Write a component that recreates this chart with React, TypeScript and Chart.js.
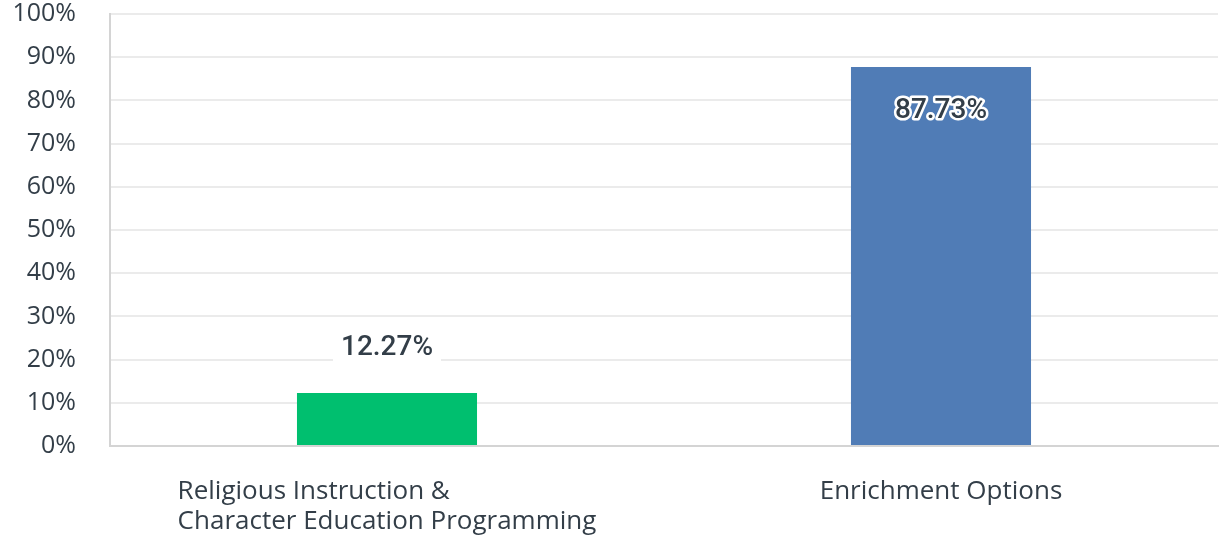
import React, { useEffect, useRef } from "react";
import { Chart, registerables } from "chart.js";

Chart.register(...registerables);

const categories: string[][] = [
  ["Religious Instruction &", "Character Education Programming"],
  ["Enrichment Options"],
];
const values: number[] = [12.27, 87.73];
const barColors: string[] = ["#00bf6f", "#507cb6"];
const yMin = 0;
const yMax = 100;
const yStep = 10;

const TEXT = "#333e48";
const TICK_FONT = "Open Sans";
const LABEL_FONT = "Roboto";

const xLabelPlugin = {
  id: "xLabelPlugin",
  afterDraw(chart: any) {
    const ctx = chart.ctx;
    const xs = chart.scales.x;
    const area = chart.chartArea;
    ctx.save();
    ctx.font = `26px "${TICK_FONT}"`;
    ctx.fillStyle = TEXT;
    ctx.textBaseline = "middle";
    ctx.textAlign = "left";
    categories.forEach((lines, i) => {
      const cx = xs.getPixelForValue(i);
      const w = Math.max(...lines.map((l) => ctx.measureText(l).width));
      const left = cx - w / 2;
      lines.forEach((l, k) => {
        ctx.fillText(l, left, area.bottom + 46 + k * 30);
      });
    });
    ctx.restore();
  },
};

const dataLabelPlugin = {
  id: "dataLabelPlugin",
  afterDatasetsDraw(chart: any) {
    const ctx = chart.ctx;
    const meta = chart.getDatasetMeta(0);
    ctx.save();
    ctx.font = `500 28px "${LABEL_FONT}"`;
    ctx.textAlign = "center";
    ctx.textBaseline = "middle";
    meta.data.forEach((bar: any, i: number) => {
      const v = values[i];
      const txt = v.toFixed(2) + "%";
      const w = ctx.measureText(txt).width;
      if (v < 50) {
        const y = bar.y - 45;
        ctx.fillStyle = "#ffffff";
        ctx.fillRect(bar.x - w / 2 - 8, y - 16, w + 16, 32);
        ctx.fillStyle = TEXT;
        ctx.fillText(txt, bar.x, y);
      } else {
        const y = bar.y + 44;
        ctx.lineWidth = 5;
        ctx.lineJoin = "round";
        ctx.strokeStyle = "#ffffff";
        ctx.strokeText(txt, bar.x, y);
        ctx.fillStyle = TEXT;
        ctx.fillText(txt, bar.x, y);
      }
    });
    ctx.restore();
  },
};

export default function App() {
  const ref = useRef<HTMLCanvasElement | null>(null);

  useEffect(() => {
    document.body.style.margin = "0";
    if (!ref.current) return;
    const chart = new Chart(ref.current, {
      type: "bar",
      data: {
        labels: categories.map((c) => c.join(" ")),
        datasets: [
          {
            data: values,
            backgroundColor: barColors,
            borderWidth: 0,
            barPercentage: 0.325,
            categoryPercentage: 1,
          },
        ],
      },
      options: {
        animation: false,
        responsive: true,
        maintainAspectRatio: false,
        layout: { padding: { top: 14, right: 3, left: 0, bottom: 0 } },
        plugins: {
          legend: { display: false },
          tooltip: { enabled: false },
        },
        scales: {
          x: {
            grid: { display: false, drawTicks: false },
            border: { display: true, color: "#d4d4d4", width: 2 },
            ticks: { display: false },
            afterFit: (s: any) => {
              s.height = 94;
            },
          },
          y: {
            min: yMin,
            max: yMax,
            ticks: {
              stepSize: yStep,
              color: TEXT,
              font: { family: TICK_FONT, size: 25 },
              padding: 34,
              callback: (v: any) => v + "%",
            },
            grid: { color: "#ebebeb", lineWidth: 2, drawTicks: false },
            border: { display: true, color: "#d4d4d4", width: 2 },
            afterFit: (s: any) => {
              s.width = 110;
              s.paddingTop = 14;
              s.paddingBottom = 14;
            },
          },
        },
      },
      plugins: [dataLabelPlugin, xLabelPlugin],
    });
    return () => chart.destroy();
  }, []);

  return (
    <div style={{ position: "fixed", left: 0, top: 0, width: 1221, height: 540, background: "#fff" }}>
      <canvas ref={ref} />
    </div>
  );
}
